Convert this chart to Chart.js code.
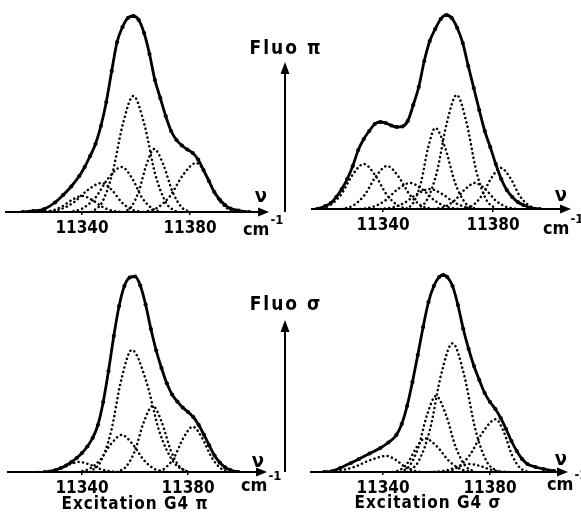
<!DOCTYPE html>
<html>
<head>
<meta charset="utf-8">
<script src="https://cdn.jsdelivr.net/npm/chart.js@4.4.1/dist/chart.umd.min.js"></script>
<style>
  html, body { margin: 0; padding: 0; background: #fff; }
  #wrap { position: relative; width: 581px; height: 517px; background: #fff; overflow: hidden; }
  #wrap canvas { position: absolute; left: 0; top: 0; }
</style>
</head>
<body>
<div id="wrap">
  <canvas id="c1" width="581" height="517"></canvas>
  <canvas id="c2" width="581" height="517"></canvas>
  <canvas id="c3" width="581" height="517"></canvas>
  <canvas id="c4" width="581" height="517"></canvas>
</div>
<script>
// ---------- DATA (wavenumber in cm-1, intensity in arbitrary units) ----------
const tickLabels = [11340, 11380];
const titles = ["Fluo π", "Fluo σ", "Excitation G4 π", "Excitation G4 σ"];

// Panel 1 (top-left): Fluo π, excitation G4 π
const p1EnvCm = [11318,11322,11326,11330,11333,11336,11339,11341,11343,11345,11347,11349,11351,11353,11355,11357,11359,11361,11363,11365,11367,11369,11371,11373,11375,11377,11379,11381,11383,11385,11387,11389,11391,11393,11395,11398,11402];
const p1EnvI  = [0,1,3,9.5,17,25.5,36,45,56,68,86,110,141,170,185,194,196,192,179,158,132,114,96,81,72,66.5,62.5,59,52.5,42,31,20,12.5,7,3.5,1.5,0];
const p1AxCm = [11343.4,11347.3,11351.2,11355.1,11359,11363.1,11367.1,11371.2,11375.2];
const p1AI   = [0,9,38,87.5,116,87.5,38,9,0];
const p1BCm  = [11355.3,11358.2,11361.0,11363.9,11366.7,11370.1,11373.5,11376.8,11380.2];
const p1BI   = [0,5,20.5,47.5,63,47.5,20.5,5,0];
const p1CCm  = [11335.2,11340.1,11345.0,11349.8,11354.7,11358.5,11362.2,11366.0,11369.7];
const p1CI   = [0,3.5,14.5,34,45,34,14.5,3.5,0];
const p1DCm  = [11326.3,11331.6,11336.8,11342.1,11347.3,11351.1,11354.8,11358.6,11362.3];
const p1DI   = [0,2.3,9.4,21.9,29,21.9,9.4,2.3,0];
const p1ECm  = [11362.8,11367.7,11372.6,11377.4,11382.3,11386.1,11389.8,11393.6,11397.3];
const p1EI   = [0,3.9,15.9,37,49,37,15.9,3.9,0];
const p1FCm  = [11325,11328.8,11332.5,11336.3,11340,11343.8,11347.5,11351.3,11355];
const p1FI   = [0,1.3,5.2,12.1,16,12.1,5.2,1.3,0];

// Panel 2 (top-right): Fluo π, excitation G4 σ
const p2EnvCm = [11316,11319,11321,11323,11325,11327,11329,11331,11333,11335,11337,11339,11341,11343,11345,11347,11349,11351,11353,11355,11357,11359,11361,11363,11365,11367,11369,11371,11373,11375,11377,11379,11381,11383,11385,11387,11389,11391,11394,11397];
const p2EnvI  = [0,3,6,12,20,30,43,59,70,78,85,87,86,83.5,82,82.5,88,104,122,148,168,180,190,194,191,181,166,143,121,99,78,62,45,30,19,12,7,4,1,0];
const p2ACm = [11316.5,11320.6,11324.8,11328.9,11333,11337.1,11341.3,11345.4,11349.5];
const p2AI  = [0,3.6,14.6,34,45,34,14.6,3.6,0];
const p2BCm = [11325,11329.1,11333.3,11337.4,11341.5,11345.6,11349.8,11353.9,11358];
const p2BI  = [0,3.4,14,32.5,43,32.5,14,3.4,0];
const p2CCm = [11331.8,11336.3,11340.8,11345.3,11349.8,11354.3,11358.8,11363.3,11367.8];
const p2CI  = [0,2.1,8.5,19.6,26,19.6,8.5,2.1,0];
const p2DCm = [11339,11343.5,11348,11352.5,11357,11361.5,11366,11370.5,11375];
const p2DI  = [0,1.6,6.5,15.1,20,15.1,6.5,1.6,0];
const p2ECm = [11348.5,11351.1,11353.8,11356.4,11359,11362.6,11366.2,11369.8,11373.4];
const p2EI  = [0,6.5,26.3,61.2,81,61.2,26.3,6.5,0];
const p2FCm = [11352.4,11356,11359.6,11363.2,11366.8,11370.4,11374,11377.6,11381.2];
const p2FI  = [0,9.1,37,86,114,86,37,9.1,0];
const p2GCm = [11358.5,11362.3,11366,11369.8,11373.5,11377.3,11381,11384.8,11388.5];
const p2GI  = [0,2.1,8.5,19.6,26,19.6,8.5,2.1,0];
const p2HCm = [11369,11372.5,11375.9,11379.4,11382.8,11386.3,11389.7,11393.2,11396.6];
const p2HI  = [0,3.3,13.3,31,41,31,13.3,3.3,0];

// Panel 3 (bottom-left): Fluo σ, excitation G4 π
const p3EnvCm = [11326,11328,11330,11332,11334,11336,11338,11340,11342,11344,11346,11348,11350,11352,11354,11356,11358,11360,11362,11364,11366,11368,11370,11372,11374,11376,11378,11380,11382,11384,11386,11388,11390,11392,11394,11396,11399];
const p3EnvI  = [0,0.5,2,4,6.5,10,14,19,25.5,34,47,70,101,136,166,186,194.5,195.5,186.5,167.5,143,121.5,104,88.7,77.5,70.3,64.4,60,55,47.2,37.3,26.7,16.5,9.5,4.6,2,0];
const p3ACm = [11342.9,11346.9,11350.9,11354.8,11358.8,11364.1,11369.3,11374.6,11379.8];
const p3AI  = [0,9.8,39.7,92,122,92,39.7,9.8,0];
const p3BCm = [11353.2,11356.6,11360,11363.3,11366.7,11370.1,11373.5,11376.8,11380.2];
const p3BI  = [0,5.3,21.5,49.8,66,49.8,21.5,5.3,0];
const p3CCm = [11338.5,11342.6,11346.8,11350.9,11355,11359.1,11363.3,11367.4,11371.5];
const p3CI  = [0,3,12,27.9,37,27.9,12,3,0];
const p3DCm = [11367.7,11371.2,11374.8,11378.3,11381.8,11385.3,11388.9,11392.4,11395.9];
const p3DI  = [0,3.6,14.7,34.2,45.3,34.2,14.7,3.6,0];
const p3ECm = [11324,11327.8,11331.5,11335.3,11339,11342.8,11346.5,11350.3,11354];
const p3EI  = [0,0.8,3.3,7.6,10,7.6,3.3,0.8,0];

// Panel 4 (bottom-right): Fluo σ, excitation G4 σ
const p4EnvCm = [11318,11321,11324,11328,11331,11335,11339,11342,11345,11347,11349,11351,11353,11355,11357,11359,11361,11362.5,11364,11366,11368,11370,11372,11374,11376,11378,11380,11382,11384,11386,11388,11390,11392,11394,11397,11400,11404];
const p4EnvI  = [0,1,4,9,13,18.5,24,29.5,37,48,66,90,117,145,170,186,195,197,195,186,167,143,123,106,92,79,70,63,54,43,31,21,13,8,5,3,1];
const p4ACm = [11348.9,11353.2,11357.5,11361.7,11366,11370.3,11374.6,11378.8,11383.1];
const p4AI  = [0,10.3,41.8,97.2,128.7,97.2,41.8,10.3,0];
const p4BCm = [11346.6,11349.9,11353.2,11356.5,11359.8,11363.5,11367.2,11370.8,11374.5];
const p4BI  = [0,6.1,24.7,57.4,76,57.4,24.7,6.1,0];
const p4CCm = [11343.7,11346.7,11349.7,11352.7,11355.7,11360.2,11364.7,11369.2,11373.7];
const p4CI  = [0,2.7,11,25.4,33.7,25.4,11,2.7,0];
const p4DCm = [11362.7,11367.6,11372.5,11377.3,11382.2,11385.2,11388.2,11391.2,11394.2];
const p4DI  = [0,4.2,17.1,39.8,52.7,39.8,17.1,4.2,0];
const p4ECm = [11317.4,11323.4,11329.4,11335.4,11341.4,11344.8,11348.2,11351.5,11354.9];
const p4EI  = [0,1.3,5.2,12.1,16,12.1,5.2,1.3,0];
const p4FCm = [11357.5,11361.3,11365,11368.8,11372.5,11376.3,11380,11383.8,11387.5];
const p4FI  = [0,0.6,2.6,6,8,6,2.6,0.6,0];

// ---------- RENDERING ----------
const FONT = "'Liberation Sans Narrow', 'DejaVu Sans Condensed', 'Liberation Sans', 'DejaVu Sans', sans-serif";
const pts = (xs, ys) => xs.map((x, i) => ({ x: x, y: ys[i] }));

function envDs(xs, ys) {
  return { data: pts(xs, ys), borderColor: '#000', borderWidth: 2.8, pointRadius: 2.1,
           pointBackgroundColor: '#000', pointBorderWidth: 0, cubicInterpolationMode: 'monotone', fill: false, order: 0 };
}
function compDs(xs, ys) {
  return { data: pts(xs, ys), borderColor: '#000', borderWidth: 2.5, borderDash: [0.1, 4.4], borderCapStyle: 'round',
           pointRadius: 0, cubicInterpolationMode: 'monotone', fill: false, order: 1 };
}

const decor = {
  id: 'decor',
  afterDraw(chart, args, o) {
    const ctx = chart.ctx, ca = chart.chartArea;
    ctx.save();
    ctx.fillStyle = '#000'; ctx.strokeStyle = '#000';
    const y = ca.bottom;
    ctx.lineWidth = 2;
    ctx.beginPath(); ctx.moveTo(ca.right - 1, y); ctx.lineTo(o.tip - 6, y); ctx.stroke();
    ctx.beginPath(); ctx.moveTo(o.tip, y); ctx.lineTo(o.tip - 11, y - 4.5); ctx.lineTo(o.tip - 11, y + 4.5); ctx.closePath(); ctx.fill();
    ctx.textBaseline = 'middle'; ctx.textAlign = 'center';
    ctx.font = 'bold 20px ' + FONT;
    ctx.fillText('ν', o.nu[0], o.nu[1]);
    ctx.textAlign = 'left';
    ctx.font = 'bold 18px ' + FONT;
    ctx.fillText('cm', o.cm[0], o.cm[1]);
    const w = ctx.measureText('cm').width;
    ctx.font = 'bold 13px ' + FONT;
    ctx.fillText('-1', o.cm[0] + w + 1, o.cm[1] - 9);
    if (o.varrow) {
      const v = o.varrow;
      ctx.lineWidth = 2;
      ctx.beginPath(); ctx.moveTo(v.x, v.y0); ctx.lineTo(v.x, v.y1 + 8); ctx.stroke();
      ctx.beginPath(); ctx.moveTo(v.x, v.y1); ctx.lineTo(v.x - 4.5, v.y1 + 12); ctx.lineTo(v.x + 4.5, v.y1 + 12); ctx.closePath(); ctx.fill();
      ctx.textAlign = 'center';
      ctx.font = 'bold 19px ' + FONT;
      if ('letterSpacing' in ctx) ctx.letterSpacing = '2px';
      ctx.fillText(v.label, v.lx, v.ly);
      if ('letterSpacing' in ctx) ctx.letterSpacing = '0px';
    }
    if (o.title) {
      ctx.textAlign = 'center';
      ctx.font = 'bold 17px ' + FONT;
      if ('letterSpacing' in ctx) ctx.letterSpacing = '1px';
      ctx.fillText(o.title.text, o.title.x, o.title.y);
      if ('letterSpacing' in ctx) ctx.letterSpacing = '0px';
    }
    ctx.restore();
  }
};

function makeChart(id, env, comps, cfg) {
  new Chart(document.getElementById(id), {
    type: 'line',
    data: { datasets: [envDs(env[0], env[1])].concat(comps.map(c => compDs(c[0], c[1]))) },
    options: {
      responsive: false, animation: false, devicePixelRatio: 1,
      layout: { padding: cfg.pad },
      plugins: { legend: { display: false }, tooltip: { enabled: false }, decor: cfg.decor },
      scales: {
        x: {
          type: 'linear', min: cfg.min, max: cfg.max,
          afterBuildTicks: s => { s.ticks = tickLabels.map(v => ({ value: v })); },
          afterFit: s => { s.height = 40; },
          grid: { display: true, drawOnChartArea: false, drawTicks: true, tickLength: 3, color: '#000', lineWidth: 1.5 },
          border: { display: true, color: '#000', width: 2 },
          ticks: { color: '#000', padding: 3, maxRotation: 0, autoSkip: false,
                   font: { family: FONT, size: 17, weight: 'bold' },
                   callback: v => String(v) }
        },
        y: { display: false, min: 0, max: 200 }
      }
    },
    plugins: [decor]
  });
}

makeChart('c1', [p1EnvCm, p1EnvI],
  [[p1AxCm, p1AI], [p1BCm, p1BI], [p1CCm, p1CI], [p1DCm, p1DI], [p1ECm, p1EI], [p1FCm, p1FI]],
  { min: 11312, max: 11408, pad: { left: 6.4, right: 315.4, top: 12, bottom: 265 },
    decor: { tip: 269, nu: [261, 197], cm: [243, 230],
             varrow: { x: 285, y0: 212, y1: 62, label: titles[0], lx: 286, ly: 49 } } });

makeChart('c2', [p2EnvCm, p2EnvI],
  [[p2ACm, p2AI], [p2BCm, p2BI], [p2CCm, p2CI], [p2DCm, p2DI], [p2ECm, p2EI], [p2FCm, p2FI], [p2GCm, p2GI], [p2HCm, p2HI]],
  { min: 11314, max: 11406, pad: { left: 311.5, right: 16.5, top: 9, bottom: 268 },
    decor: { tip: 571, nu: [561, 196], cm: [543, 229] } });

makeChart('c3', [p3EnvCm, p3EnvI],
  [[p3ACm, p3AI], [p3BCm, p3BI], [p3CCm, p3CI], [p3DCm, p3DI], [p3ECm, p3EI]],
  { min: 11312, max: 11408, pad: { left: 7.8, right: 318.8, top: 272, bottom: 5 },
    decor: { tip: 267, nu: [258, 462], cm: [241, 486],
             varrow: { x: 285, y0: 472, y1: 320, label: titles[1], lx: 286, ly: 305 },
             title: { text: titles[2], x: 135, y: 505 } } });

makeChart('c4', [p4EnvCm, p4EnvI],
  [[p4ACm, p4AI], [p4BCm, p4BI], [p4CCm, p4CI], [p4DCm, p4DI], [p4ECm, p4EI], [p4FCm, p4FI]],
  { min: 11313, max: 11406, pad: { left: 310.8, right: 21.45, top: 272, bottom: 5 },
    decor: { tip: 568, nu: [561, 460], cm: [547, 485],
             title: { text: titles[3], x: 428, y: 504 } } });
</script>
</body>
</html>
